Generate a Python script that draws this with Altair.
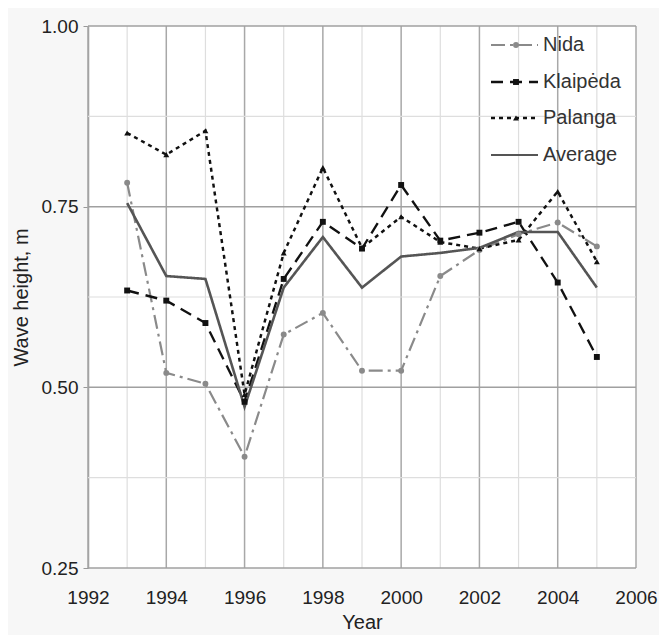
import altair as alt
import pandas as pd

years = list(range(1993, 2006))
series_names = ["Nida", "Klaipėda", "Palanga", "Average"]
nida = [0.783, 0.520, 0.505, 0.404, 0.573, 0.603, 0.523, 0.523, 0.654, 0.690, 0.712, 0.728, 0.695]
klaipeda = [0.634, 0.620, 0.589, 0.480, 0.650, 0.729, 0.692, 0.780, 0.703, 0.714, 0.729, 0.645, 0.542]
palanga = [0.852, 0.822, 0.855, 0.490, 0.686, 0.804, 0.693, 0.736, 0.701, 0.692, 0.704, 0.771, 0.674]
average = [0.755, 0.654, 0.650, 0.473, 0.638, 0.708, 0.638, 0.681, 0.686, 0.693, 0.715, 0.715, 0.638]

major_y = [0.25, 0.50, 0.75, 1.00]
minor_y = [0.375, 0.625, 0.875]
major_years = list(range(1992, 2007, 2))
minor_years = list(range(1993, 2006, 2))

colors = ["#8a8a8a", "#111111", "#111111", "#555555"]
dashes = [[14, 5, 3, 5], [12, 7], [4, 4], [1, 0]]
shapes = ["circle", "square", "triangle-up", "circle"]
widths = [2.2, 2.6, 2.6, 2.2]

rows = []
for name, vals in zip(series_names, [nida, klaipeda, palanga, average]):
    for yr, v in zip(years, vals):
        rows.append({"Year": yr, "value": v, "series": name})
df = pd.DataFrame(rows)

xs = alt.Scale(domain=[1992, 2006], nice=False, zero=False)
ys = alt.Scale(domain=[0.25, 1.0], nice=False, zero=False)
FONT = "Liberation Sans"

X = alt.X("Year:Q", scale=xs,
          axis=alt.Axis(values=major_years, format="d", grid=False, labelFlush=False,
                        tickSize=0, labelPadding=20, labelFontSize=19, titleFontSize=20,
                        titlePadding=5, domain=False, labelColor="#222", titleColor="#222",
                        labelFont=FONT, titleFont=FONT, titleFontWeight="normal"),
          title="Year")
Y = alt.Y("value:Q", scale=ys,
          axis=alt.Axis(values=major_y, format=".2f", grid=False, tickSize=5, labelFlush=False,
                        tickColor="#999", labelPadding=5, labelFontSize=19, titleFontSize=20,
                        titlePadding=10, domainColor="#999", domainWidth=1.5,
                        labelColor="#222", titleColor="#222",
                        labelFont=FONT, titleFont=FONT, titleFontWeight="normal"),
          title="Wave height, m")

vmin = alt.Chart(pd.DataFrame({"Year": minor_years})).mark_rule(color="#dedede", strokeWidth=1.2).encode(
    x=alt.X("Year:Q", scale=xs))
vmaj = alt.Chart(pd.DataFrame({"Year": major_years})).mark_rule(color="#a8a8a8", strokeWidth=1.5).encode(
    x=alt.X("Year:Q", scale=xs))
hmin = alt.Chart(pd.DataFrame({"value": minor_y})).mark_rule(color="#dedede", strokeWidth=1.2).encode(
    y=alt.Y("value:Q", scale=ys))
hmaj = alt.Chart(pd.DataFrame({"value": major_y})).mark_rule(color="#a0a0a0", strokeWidth=1.5).encode(
    y=alt.Y("value:Q", scale=ys))

base = alt.Chart(df)
lines = base.mark_line().encode(
    x=X, y=Y,
    color=alt.Color("series:N", scale=alt.Scale(domain=series_names, range=colors), legend=None),
    strokeDash=alt.StrokeDash("series:N", scale=alt.Scale(domain=series_names, range=dashes), legend=None),
    strokeWidth=alt.StrokeWidth("series:N", scale=alt.Scale(domain=series_names, range=widths), legend=None),
)
points = base.transform_filter(alt.datum.series != "Average").mark_point(filled=True, size=35, opacity=1).encode(
    x="Year:Q", y="value:Q",
    color=alt.Color("series:N", scale=alt.Scale(domain=series_names, range=colors), legend=None),
    shape=alt.Shape("series:N", scale=alt.Scale(domain=series_names, range=shapes), legend=None),
)

# manual legend
leg_layers = []
row_y = [19, 56, 92, 129]
for i, name in enumerate(series_names):
    d = pd.DataFrame({"series": [name]})
    leg_layers.append(alt.Chart(d).mark_rule(color=colors[i], strokeDash=dashes[i], strokeWidth=widths[i]).encode(
        x=alt.value(403), x2=alt.value(450), y=alt.value(row_y[i])))
    if name != "Average":
        leg_layers.append(alt.Chart(d).mark_point(filled=True, size=35, opacity=1, color=colors[i], shape=shapes[i]).encode(
            x=alt.value(428), y=alt.value(row_y[i])))
    leg_layers.append(alt.Chart(d).mark_text(align="left", baseline="middle", fontSize=20,
                                             font=FONT, color="#333").encode(
        x=alt.value(455), y=alt.value(row_y[i]), text="series:N"))

chart = alt.layer(vmin, vmaj, hmin, hmaj, lines, points, *leg_layers).properties(
    width=548, height=542,
    autosize=alt.AutoSizeParams(type="none"),
    padding={"left": 80, "top": 18, "right": 23, "bottom": 67},
    background="#f7f7f7",
).configure_view(fill="white", stroke=None)

chart.save("out.html", embed_options={"renderer": "svg", "actions": False})
